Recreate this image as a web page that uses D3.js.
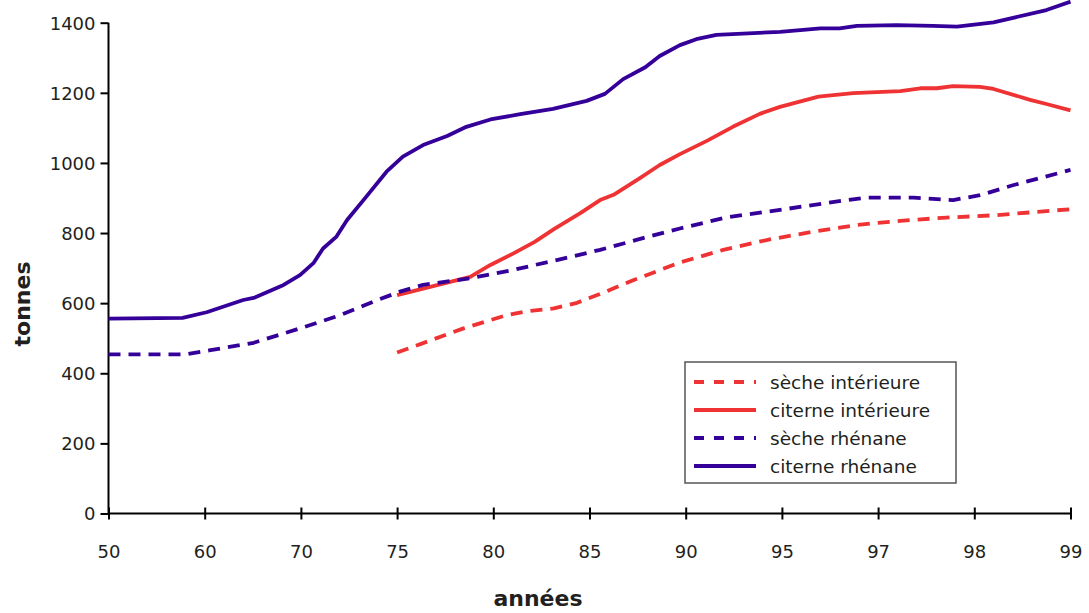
<!DOCTYPE html>
<html>
<head>
<meta charset="utf-8">
<script src="https://cdn.jsdelivr.net/npm/d3@7"></script>
<style>
  html, body { margin: 0; padding: 0; background: #fff; }
  svg { display: block; overflow: visible; }
  text { font-family: "DejaVu Sans", sans-serif; fill: #231f20; }
</style>
</head>
<body>
<svg id="chart" width="1089" height="613"></svg>
<script>
// Category tick labels (evenly spaced on the x axis)
const xLabels = ["50", "60", "70", "75", "80", "85", "90", "95", "97", "98", "99"];
const yTicks = [0, 200, 400, 600, 800, 1000, 1200, 1400];

// Series: positions along the category axis (index units) and values in tonnes
const secheInterieureX = [3.0, 3.69, 4.14, 4.38, 4.63, 4.87, 5.08, 5.46, 5.94, 6.39, 6.84, 7.33, 7.78, 8.23, 8.71, 9.23, 10.0];
const secheInterieureY = [459, 528, 566, 578, 585, 601, 623, 666, 716, 752, 780, 804, 823, 835, 844, 851, 868];

const citerneInterieureX = [3.0, 3.76, 3.97, 4.21, 4.43, 4.63, 4.90, 5.11, 5.25, 5.52, 5.73, 5.94, 6.22, 6.49, 6.77, 6.98, 7.38, 7.74, 8.23, 8.44, 8.61, 8.78, 9.06, 9.20, 9.58, 9.75, 10.0];
const citerneInterieureY = [623, 675, 709, 742, 775, 811, 856, 894, 909, 956, 994, 1025, 1063, 1103, 1140, 1160, 1189, 1199, 1205, 1213, 1213, 1219, 1217, 1211, 1180, 1168, 1150];

const secheRhenaneX = [0, 0.80, 1.06, 1.51, 1.99, 2.41, 2.75, 3.03, 3.27, 3.76, 4.21, 4.66, 5.11, 5.59, 5.94, 6.43, 6.98, 7.67, 7.88, 8.37, 8.78, 9.06, 9.41, 10.0];
const secheRhenaneY = [454, 454, 466, 487, 528, 566, 604, 633, 652, 671, 695, 723, 752, 788, 813, 845, 866, 894, 901, 901, 894, 908, 937, 980];

const citerneRhenaneX = [0, 0.77, 1.02, 1.40, 1.52, 1.82, 1.99, 2.13, 2.23, 2.37, 2.48, 2.68, 2.89, 3.06, 3.27, 3.52, 3.72, 3.97, 4.28, 4.62, 4.97, 5.16, 5.35, 5.58, 5.73, 5.94, 6.11, 6.32, 6.98, 7.40, 7.60, 7.78, 8.19, 8.57, 8.82, 9.20, 9.75, 10.0];
const citerneRhenaneY = [556, 558, 574, 609, 616, 652, 680, 714, 756, 790, 837, 904, 975, 1018, 1051, 1077, 1103, 1124, 1139, 1154, 1177, 1197, 1239, 1273, 1305, 1336, 1353, 1365, 1374, 1384, 1384, 1391, 1393, 1391, 1389, 1401, 1436, 1460];

const seriesNames = ["sèche intérieure", "citerne intérieure", "sèche rhénane", "citerne rhénane"];

const RED = "#ef3233", PURPLE = "#340099";
const series = [
  { name: seriesNames[0], xs: secheInterieureX, ys: secheInterieureY, color: RED, dash: "12,8" },
  { name: seriesNames[1], xs: citerneInterieureX, ys: citerneInterieureY, color: RED, dash: null },
  { name: seriesNames[2], xs: secheRhenaneX, ys: secheRhenaneY, color: PURPLE, dash: "12,8" },
  { name: seriesNames[3], xs: citerneRhenaneX, ys: citerneRhenaneY, color: PURPLE, dash: null }
];

const svg = d3.select("#chart");
const x = d3.scaleLinear().domain([0, xLabels.length - 1]).range([108.5, 1070.5]);
const y = d3.scaleLinear().domain([0, 1400]).range([513.5, 22.7]);

// Y axis
const yAxis = svg.append("g").attr("transform", `translate(${x(0)},0)`)
  .call(d3.axisLeft(y).tickValues(yTicks).tickSize(8).tickPadding(5).tickFormat(d3.format("d")));
yAxis.select(".domain").attr("stroke", "#000").attr("stroke-width", 2).attr("d", `M0,${y(0)}V${y(1400)}`);
yAxis.selectAll(".tick line").attr("stroke", "#000").attr("stroke-width", 2);
yAxis.selectAll(".tick text").attr("font-size", 18).attr("font-family", "DejaVu Sans, sans-serif")
  .attr("fill", "#231f20").attr("dy", "0.36em");

// X axis
const xAxis = svg.append("g").attr("transform", `translate(0,${y(0)})`)
  .call(d3.axisBottom(x).tickValues(d3.range(xLabels.length)).tickFormat(i => xLabels[i]).tickSize(6));
xAxis.select(".domain").attr("stroke", "#000").attr("stroke-width", 2).attr("d", `M${x(0)},0H${x(10)}`);
xAxis.selectAll(".tick line").attr("stroke", "#000").attr("stroke-width", 2).attr("y1", -6).attr("y2", 6);
xAxis.selectAll(".tick text").attr("font-size", 18).attr("font-family", "DejaVu Sans, sans-serif")
  .attr("fill", "#231f20").attr("y", 44).attr("dy", 0);

// Lines
const line = d3.line().x(d => x(d[0])).y(d => y(d[1])).curve(d3.curveLinear);
series.forEach(s => {
  const pts = s.xs.map((v, i) => [v, s.ys[i]]);
  svg.append("path").datum(pts)
    .attr("d", line)
    .attr("fill", "none")
    .attr("stroke", s.color)
    .attr("stroke-width", 3.8)
    .attr("stroke-linejoin", "round")
    .attr("stroke-dasharray", s.dash);
});

// Axis titles
svg.append("text").attr("x", 538).attr("y", 606).attr("text-anchor", "middle")
  .attr("font-size", 22).attr("font-weight", "bold").text("années");
svg.append("text").attr("transform", "translate(30,304) rotate(-90)").attr("text-anchor", "middle")
  .attr("font-size", 22).attr("font-weight", "bold").text("tonnes");

// Legend
const lg = svg.append("g");
lg.append("rect").attr("x", 685).attr("y", 362).attr("width", 271).attr("height", 121)
  .attr("fill", "#fff").attr("stroke", "#555").attr("stroke-width", 1.5);
const rowY = [382, 410, 438, 466];
series.forEach((s, i) => {
  lg.append("line").attr("x1", 694).attr("x2", 756).attr("y1", rowY[i]).attr("y2", rowY[i])
    .attr("stroke", s.color).attr("stroke-width", 3.8).attr("stroke-dasharray", s.dash ? "10,10" : null);
  lg.append("text").attr("x", 770).attr("y", rowY[i]).attr("dy", "0.36em")
    .attr("font-size", 18.5).text(s.name);
});
</script>
</body>
</html>
